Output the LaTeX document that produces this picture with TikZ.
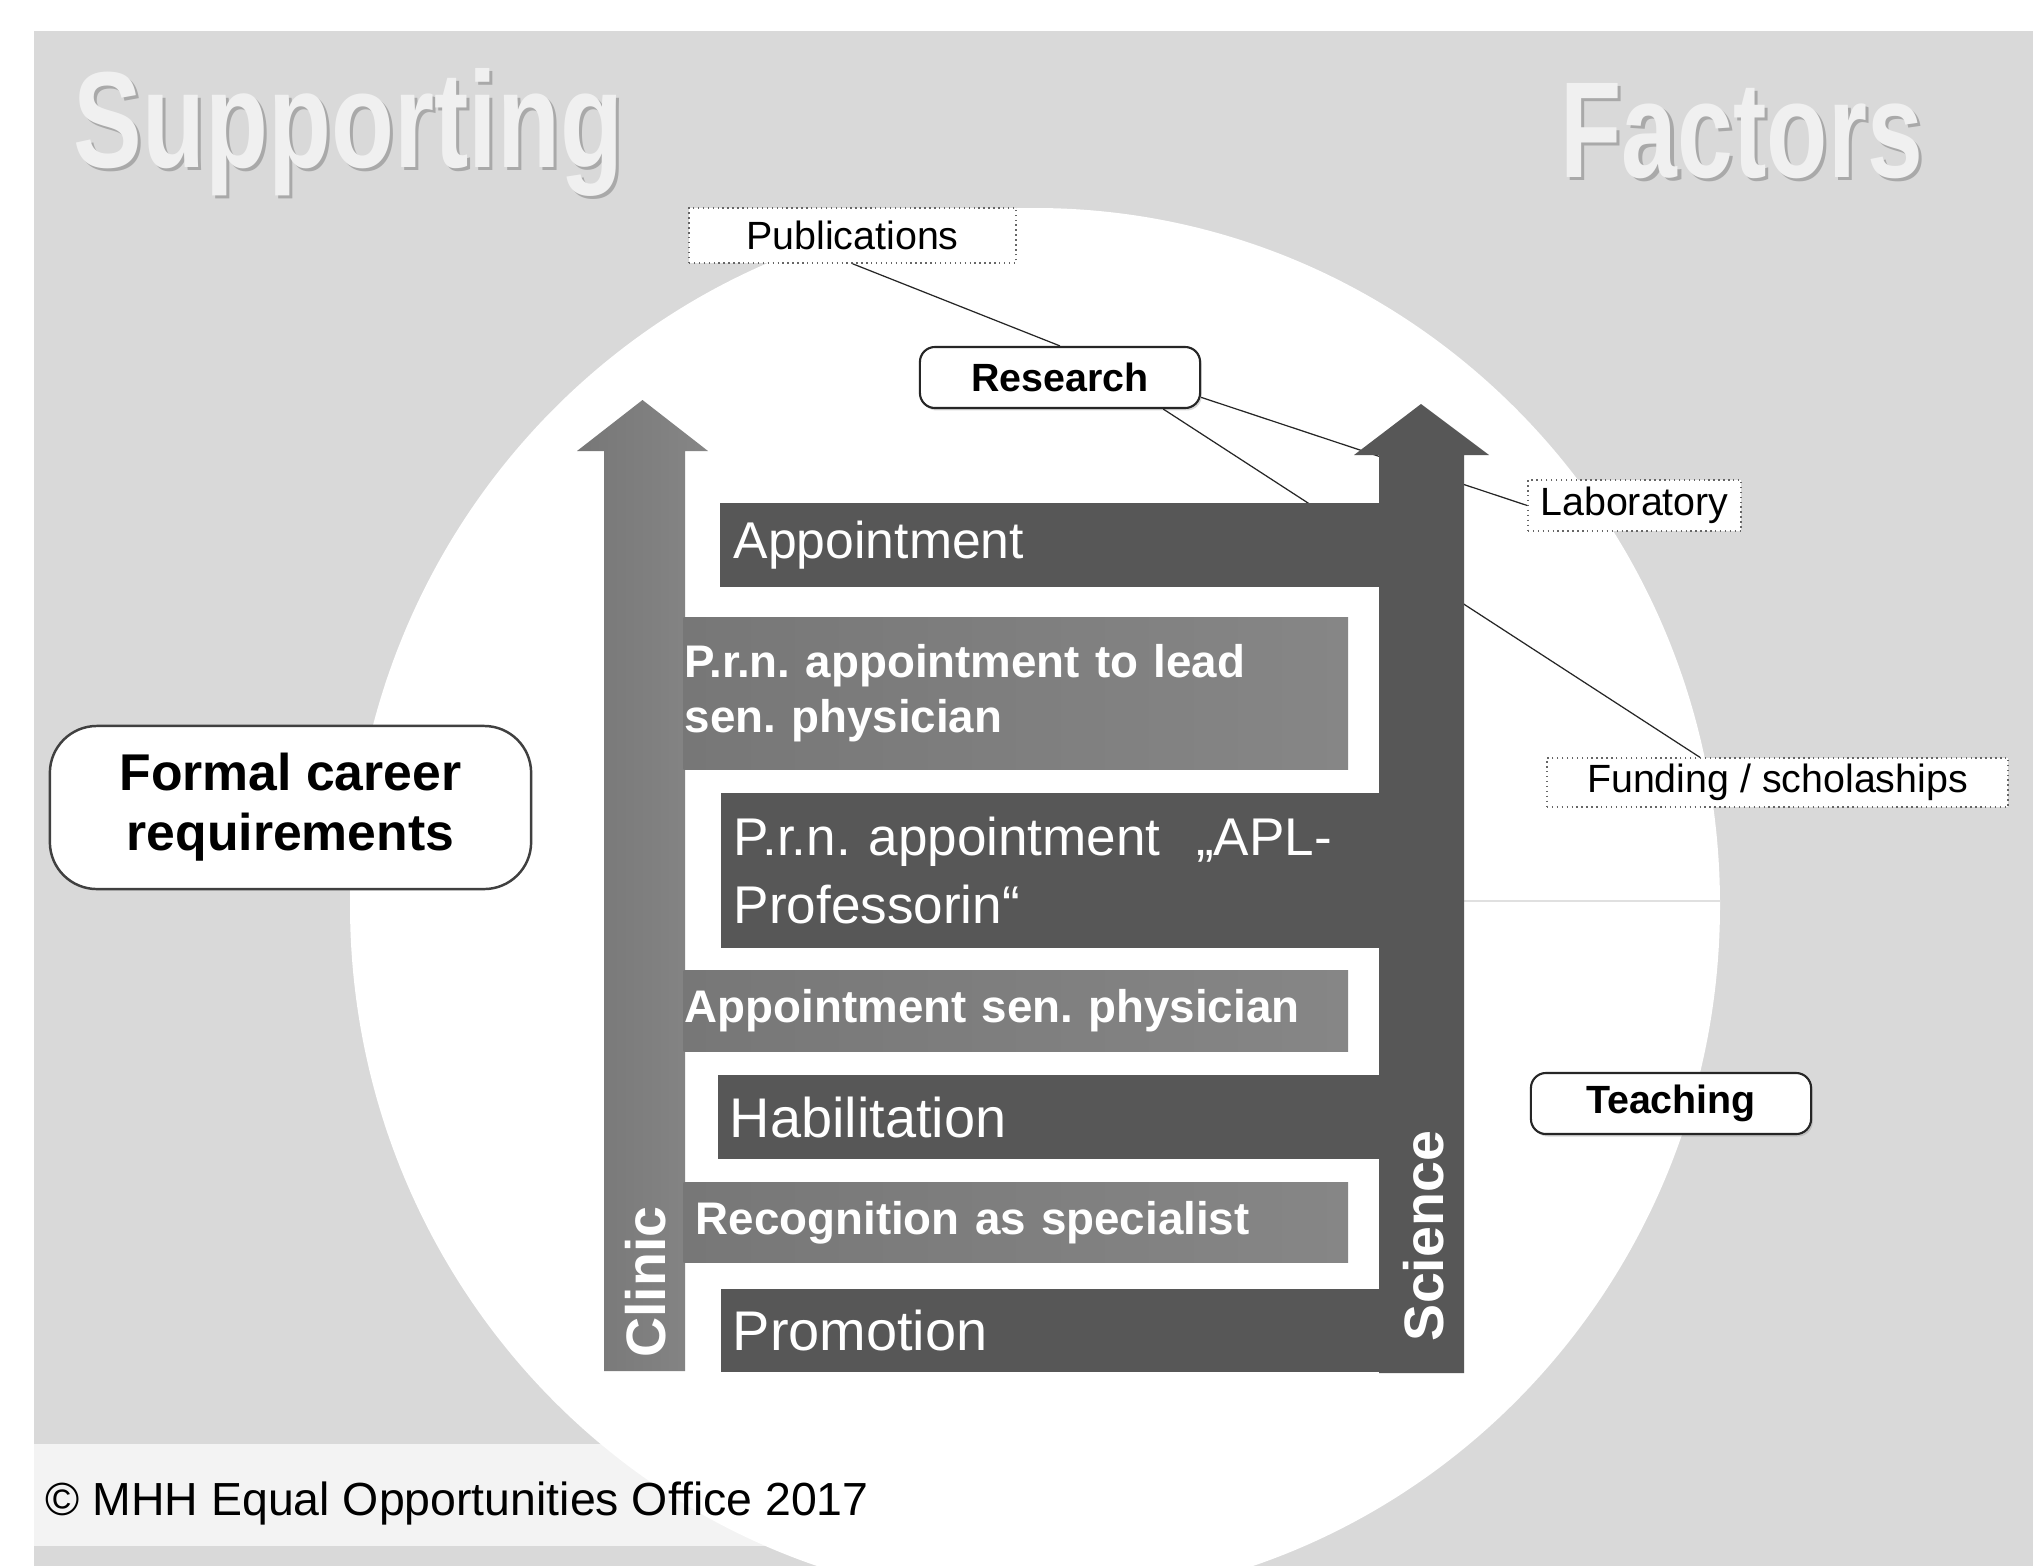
\documentclass[tikz,border=0pt]{standalone}
\usepackage{fontspec}
\setmainfont{Liberation Sans}
\usetikzlibrary{shadows}
\newcommand\fsz[2]{\fontsize{#1}{#2}\selectfont}
\frenchspacing

\begin{document}
\begin{tikzpicture}[x=0.01cm,y=-0.01cm,
	tag/.style={draw=black!60,densely dotted,fill=white,inner sep=0pt,font=\fsz{11.2}{13}},
	factor/.style={draw=black!85,line width=0.6pt,fill=white,rounded corners=0.15cm,inner sep=0pt,font=\fsz{11.2}{13}\bfseries,drop shadow={shadow xshift=0.5pt,shadow yshift=-0.7pt,opacity=0.3}},
	stepdark/.style={fill=darkstep,text=white,anchor=west,inner ysep=0pt,align=left},
	steplight/.style={left color=lightstepL,right color=lightstepR,text=white,anchor=west,inner ysep=0pt,align=left,font=\fsz{13}{15.6}\bfseries},
	link/.style={black!85,line width=0.35pt},
	title/.style={anchor=base west,inner sep=0pt}]
					\definecolor{panel}{HTML}{D9D9D9}
					\definecolor{strip}{HTML}{F3F3F3}
					\definecolor{darkstep}{HTML}{575757}
					\definecolor{lightstepL}{HTML}{777777}
					\definecolor{lightstepR}{HTML}{868686}
					\definecolor{titlewhite}{HTML}{F0F0F0}
					\definecolor{titleshade}{HTML}{A9A9A9}
					\useasboundingbox (0,0) rectangle (2033,1566);
					\fill[panel] (34,31) rectangle (2033,1566);
					\fill[strip] (34,1444) rectangle (900,1546);
					\begin{scope}
						\clip (34,31) rectangle (2033,1566);
						\fill[white] (1035,905) ellipse [x radius=685, y radius=697];
					\end{scope}
					\draw[black!12,line width=0.4pt] (1464,901) -- (1720,901);

					% headings
					\node[title,text=titleshade] at (76,170) {\resizebox{5.49cm}{0.99cm}{\bfseries Supporting}};
					\node[title,text=titlewhite] (supporting) at (73,167) {\resizebox{5.49cm}{0.99cm}{\bfseries Supporting}};
					\node[title,text=titleshade] at (1563,180) {\resizebox{3.62cm}{0.94cm}{\bfseries Factors}};
					\node[title,text=titlewhite] (factors) at (1560,177) {\resizebox{3.62cm}{0.94cm}{\bfseries Factors}};

					% supporting factors
					\node[tag,minimum width=3.27cm,minimum height=0.55cm] (pub) at (852.5,235.5) {Publications};
					\node[factor,minimum width=2.80cm,minimum height=0.61cm] (res) at (1060,377.5) {Research};
					\node[tag,minimum width=2.13cm,minimum height=0.51cm] (lab) at (1634.5,505.5) {Laboratory};
					\node[tag,minimum width=4.61cm,minimum height=0.49cm] (fund) at (1777.5,782.5) {Funding / scholaships};
					\node[factor,minimum width=2.80cm,minimum height=0.61cm] (teach) at (1671,1103.5) {Teaching};
					\draw[link] (pub.south) -- (res.north);
					\draw[link] (res.-8) -- (lab.west);
					\draw[link] (res.-17) -- (fund.162);

					% the two career tracks
					\path[left color=lightstepL,right color=lightstepR] (604,1371) -- (604,451) -- (577,451) -- (642.5,400) -- (708,451) -- (685,451) -- (685,1371) -- cycle;
					\path[fill=darkstep] (1379,1373) -- (1379,455) -- (1354,455) -- (1421,404) -- (1489,455) -- (1464,455) -- (1464,1373) -- cycle;
					\node[stepdark,minimum height=0.84cm,inner xsep=0.14cm,text width=6.33cm,font=\fsz{14.7}{17}] (appt) at (719,545) {Appointment};
					\node[steplight,minimum height=1.51cm,inner xsep=0.01cm,text width=6.62cm] (lead) at (683,693.5) {P.r.n. appointment to lead\\sen. physician};
					\node[stepdark,minimum height=1.55cm,inner xsep=0.13cm,text width=6.34cm,font=\fsz{15.1}{19.3}] (apl) at (720,870.5) {P.r.n. appointment~ „APL-\\Professorin“};
					\node[steplight,minimum height=0.80cm,inner xsep=0.01cm,text width=6.62cm] (senphys) at (683,1011) {Appointment sen. physician};
					\node[stepdark,minimum height=0.84cm,inner xsep=0.12cm,text width=6.39cm,font=\fsz{15.9}{18}] (habil) at (717,1117) {Habilitation};
					\node[steplight,minimum height=0.79cm,inner xsep=0.12cm,text width=6.40cm] (recog) at (683,1222.5) {Recognition as specialist};
					\node[stepdark,minimum height=0.83cm,inner xsep=0.12cm,text width=6.36cm,font=\fsz{15.9}{18}] (promo) at (720,1330.5) {Promotion};
					\node[rotate=90,text=white,inner sep=0pt,font=\fsz{15.8}{18}\bfseries] (clinic) at (646,1282) {Clinic};
					\node[rotate=90,text=white,inner sep=0pt,font=\fsz{15.8}{18}\bfseries] (science) at (1424,1236) {Science};

					\node[draw=black!75,line width=0.7pt,fill=white,rounded corners=0.47cm,minimum width=4.81cm,minimum height=1.63cm,align=center,font=\fsz{14.7}{17.1}\bfseries] (formal) at (290.5,807.5) {Formal career\\requirements};
					\node[title,font=\fsz{13.2}{15}] (copy) at (45,1515) {© MHH Equal Opportunities Office 2017};
				\end{tikzpicture}
\end{document}
